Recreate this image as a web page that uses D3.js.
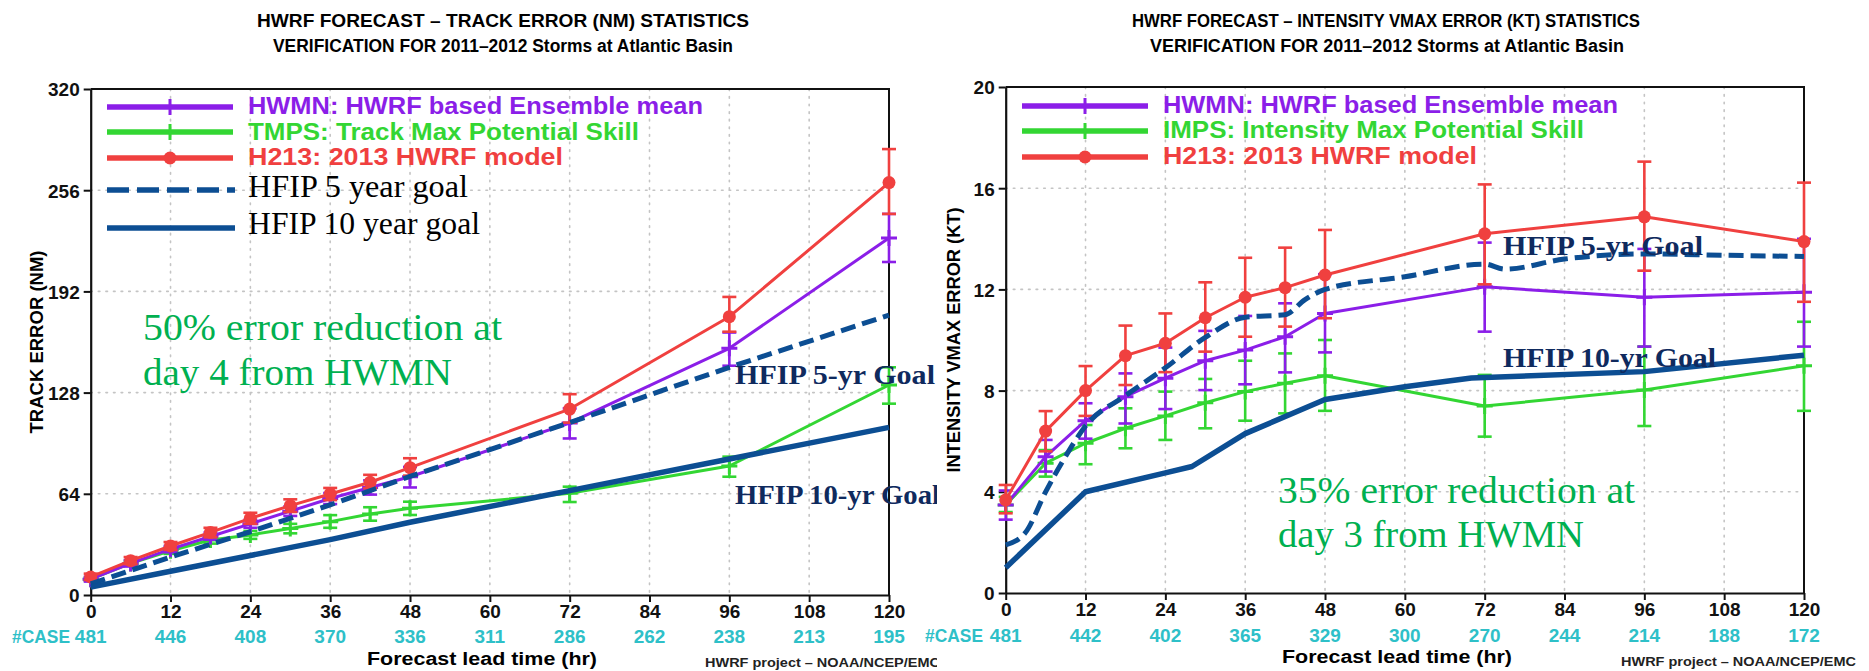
<!DOCTYPE html>
<html>
<head>
<meta charset="utf-8">
<script src="https://cdn.jsdelivr.net/npm/d3@7"></script>
<style>
  html, body { margin: 0; padding: 0; background: #fff; }
  svg { display: block; }
</style>
</head>
<body>
<svg id="chart" width="1869" height="671"></svg>
<script>
// ---- Verification lead times (hours) -------------------------------------
const leadTimes   = [0, 6, 12, 18, 24, 30, 36, 42, 48, 72, 96, 120];
const xTickValues = [0, 12, 24, 36, 48, 60, 72, 84, 96, 108, 120];

// ---- Track error (NM) ----------------------------------------------------
const trackTicks  = [0, 64, 128, 192, 256, 320];
const trackCases  = [481, 446, 408, 370, 336, 311, 286, 262, 238, 213, 195];

const trackHWMN   = [10, 20, 29, 37, 45, 53, 61, 68, 74.8, 108.8, 156, 225.8];
const trackHWMNLo = [8.5, 18, 27, 35, 42.5, 50, 57.5, 63.5, 68, 99, 145, 210.6];
const trackHWMNHi = [11.5, 22, 31, 39.5, 47.5, 56, 64.5, 72.5, 81, 118, 166, 241];

const trackTMPS   = [10, 20, 28, 34.8, 38, 42, 46.4, 51.2, 54.8, 64.3, 81.6, 132.8];
const trackTMPSLo = [9, 18.5, 26, 32.5, 35.5, 39, 42.5, 47, 50.6, 58.8, 74.8, 121];
const trackTMPSHi = [11, 21.5, 30, 37, 40.5, 45, 50.5, 55.5, 59, 68.5, 87.5, 144];

const trackH213   = [11.4, 21.7, 31, 39.6, 48.5, 56.5, 63.9, 71.3, 80.5, 117.6, 176, 260.8];
const trackH213Lo = [9.5, 19.5, 28.5, 36.5, 45, 52.5, 60, 67.5, 75.5, 109, 166.5, 241];
const trackH213Hi = [13.5, 24, 33.5, 42.5, 52, 60.5, 67.7, 76, 86.5, 127, 188.5, 282];

const trackGoalHours = [0, 12, 24, 36, 48, 72, 96, 120];
const trackGoal5yr   = [7, 24, 40, 57, 75, 109, 144, 177];
const trackGoal10yr  = [5, 15, 25, 35, 46, 66, 86, 106];

// ---- Intensity (Vmax) error (KT) -----------------------------------------
const intTicks  = [0, 4, 8, 12, 16, 20];
const intCases  = [481, 442, 402, 365, 329, 300, 270, 244, 214, 188, 172];

const intHWMN   = [3.48, 5.39, 6.81, 7.76, 8.49, 9.18, 9.6, 10.13, 11.05, 12.1, 11.69, 11.89];
const intHWMNLo = [2.9, 4.8, 6.1, 6.7, 7.27, 8.02, 8.25, 8.72, 9.51, 10.33, 9.74, 9.74];
const intHWMNHi = [4.05, 6.05, 7.5, 8.68, 9.7, 10.36, 10.95, 11.45, 12.6, 13.85, 13.6, 14.0];

const intIMPS   = [3.48, 5.13, 5.92, 6.51, 7.0, 7.52, 7.96, 8.29, 8.59, 7.39, 8.02, 8.98];
const intIMPSLo = [3.2, 4.6, 5.09, 5.72, 6.05, 6.51, 6.81, 7.1, 7.2, 6.18, 6.6, 7.2];
const intIMPSHi = [3.8, 5.65, 6.64, 7.3, 7.96, 8.46, 9.18, 9.47, 10.0, 8.62, 9.74, 10.72];

const intH213   = [3.68, 6.4, 8.0, 9.38, 9.87, 10.88, 11.69, 12.07, 12.57, 14.2, 14.87, 13.89];
const intH213Lo = [3.15, 5.6, 7.0, 8.22, 8.73, 9.54, 10.13, 10.53, 10.86, 12.2, 12.74, 11.51];
const intH213Hi = [4.27, 7.19, 8.97, 10.57, 11.05, 12.28, 13.25, 13.65, 14.35, 16.15, 17.05, 16.22];

const intGoal5yrHours  = [0, 3, 6, 9, 12, 18, 24, 30, 36, 42, 45, 48, 60, 72, 75, 84, 96, 108, 120];
const intGoal5yr       = [1.9, 2.4, 4.0, 5.4, 6.6, 7.8, 8.9, 10.1, 10.9, 11.0, 11.6, 12.0, 12.5, 13.0, 12.8, 13.2, 13.4, 13.35, 13.3];
const intGoal10yrHours = [0, 12, 24, 28, 36, 48, 60, 70, 96, 120];
const intGoal10yr      = [1.0, 4.0, 4.75, 5.0, 6.3, 7.65, 8.15, 8.5, 8.75, 9.4];

// ---- Styling -------------------------------------------------------------
const SANS  = "'Liberation Sans', Arial, Helvetica, sans-serif";
const SERIF = "'Liberation Serif', 'Times New Roman', serif";
const C = {
  purple: "#8b1ee8",
  green:  "#33d633",
  red:    "#f0403f",
  goal:   "#0c4e93",
  goalTx: "#0f2a5e",
  note:   "#00b050",
  cases:  "#2ec0c8",
  grid:   "#c4c4c4"
};

const svg = d3.select("#chart");

svg.append("defs").append("clipPath").attr("id", "leftClip")
  .append("rect").attr("x", 0).attr("y", 0).attr("width", 937).attr("height", 671);

function fitText(g, txt, x, y, len, opts) {
  const t = g.append("text")
    .attr("x", x).attr("y", y)
    .attr("font-family", opts.family || SANS)
    .attr("font-size", opts.size)
    .attr("font-weight", opts.weight || "normal")
    .attr("fill", opts.fill || "#000")
    .text(txt);
  if (len) t.attr("textLength", len).attr("lengthAdjust", opts.adjust || "spacingAndGlyphs");
  if (opts.anchor) t.attr("text-anchor", opts.anchor);
  if (opts.transform) t.attr("transform", opts.transform);
  return t;
}

function drawPanel(p) {
  const g = svg.append("g").attr("clip-path", p.clip || null);
  const x = d3.scaleLinear().domain([0, 120]).range([p.left, p.right]);
  const y = d3.scaleLinear().domain([0, p.yMax]).range([p.bottom, p.top]);

  // titles
  p.titles.forEach(t => fitText(g, t.text, t.x, t.y, t.len, { size: 18, weight: "bold" }));

  // dotted grid
  const grid = g.append("g").attr("stroke", C.grid).attr("stroke-width", 1.6)
    .attr("stroke-dasharray", "1.6,6").attr("stroke-linecap", "round");
  grid.selectAll("line.v").data(xTickValues.slice(1, -1)).join("line")
    .attr("x1", d => x(d)).attr("x2", d => x(d)).attr("y1", p.top).attr("y2", p.bottom);
  grid.selectAll("line.h").data(p.yTicks.slice(1, -1)).join("line")
    .attr("y1", d => y(d)).attr("y2", d => y(d)).attr("x1", p.left).attr("x2", p.right);

  // frame (top and right)
  g.append("path")
    .attr("d", `M${p.left},${p.top}H${p.right}V${p.bottom}`)
    .attr("fill", "none").attr("stroke", "#111").attr("stroke-width", 2);

  // axes
  const yAxis = g.append("g").attr("transform", `translate(${p.left},0)`)
    .call(d3.axisLeft(y).tickValues(p.yTicks).tickSize(7).tickSizeOuter(0).tickPadding(4));
  const xAxis = g.append("g").attr("transform", `translate(0,${p.bottom})`)
    .call(d3.axisBottom(x).tickValues(xTickValues).tickSize(7).tickSizeOuter(0));
  [yAxis, xAxis].forEach(a => {
    a.select(".domain").attr("stroke", "#111").attr("stroke-width", 2.2);
    a.selectAll(".tick line").attr("stroke", "#111").attr("stroke-width", 2);
    a.selectAll("text").attr("font-family", SANS).attr("font-weight", "bold")
      .attr("font-size", 19).attr("fill", "#111");
  });
  yAxis.selectAll("text").attr("dy", "0.36em");
  xAxis.selectAll("text").attr("y", 23).attr("dy", null);

  // case counts
  fitText(g, "#CASE", p.caseLabelX, p.caseY, 58, { size: 19, weight: "bold", fill: C.cases });
  g.append("g").selectAll("text").data(p.cases).join("text")
    .attr("x", (d, i) => x(xTickValues[i])).attr("y", p.caseY)
    .attr("text-anchor", "middle")
    .attr("font-family", SANS).attr("font-weight", "bold").attr("font-size", 19)
    .attr("fill", C.cases).text(d => d);

  // axis titles
  fitText(g, "Forecast lead time (hr)", p.xLabel.x, p.xLabel.y, 230, { size: 18, weight: "bold" });
  fitText(g, p.yLabel.text, 0, 0, p.yLabel.len, {
    size: 19, weight: "bold", anchor: "middle",
    transform: `translate(${p.yLabel.x},${p.yLabel.y}) rotate(-90)`
  });
  fitText(g, "HWRF project \u2013 NOAA/NCEP/EMC", p.credit.x, p.credit.y, 235, { size: 13, weight: "bold", fill: "#222" });

  // model series with error bars
  const line = d3.line().x((d, i) => x(leadTimes[i])).y(d => y(d));
  p.series.forEach(s => {
    const sg = g.append("g");
    sg.append("path").attr("d", line(s.values))
      .attr("fill", "none").attr("stroke", s.color).attr("stroke-width", 3)
      .attr("stroke-linejoin", "round");
    const bars = sg.append("g").attr("stroke", s.color).attr("stroke-width", 2.6);
    leadTimes.forEach((h, i) => {
      const cx = x(h), y0 = y(s.lo[i]), y1 = y(s.hi[i]);
      bars.append("line").attr("x1", cx).attr("x2", cx).attr("y1", y0).attr("y2", y1);
      bars.append("line").attr("x1", cx - 7).attr("x2", cx + 7).attr("y1", y0).attr("y2", y0);
      bars.append("line").attr("x1", cx - 7).attr("x2", cx + 7).attr("y1", y1).attr("y2", y1);
      if (s.marker === "circle") {
        sg.append("circle").attr("cx", cx).attr("cy", y(s.values[i])).attr("r", 6.5).attr("fill", s.color);
      } else {
        sg.append("path").attr("d", `M${cx - 8},${y(s.values[i])}h16M${cx},${y(s.values[i]) - 8}v16`)
          .attr("stroke", s.color).attr("stroke-width", 3);
      }
    });
  });

  // HFIP goal lines
  const goalLine = (hours, curve) => d3.line().x((d, i) => x(hours[i])).y(d => y(d)).curve(curve);
  g.append("path").attr("d", goalLine(p.goal5.hours, p.goal5.curve)(p.goal5.values))
    .attr("fill", "none").attr("stroke", C.goal).attr("stroke-width", 5)
    .attr("stroke-dasharray", "15,7");
  g.append("path").attr("d", goalLine(p.goal10.hours, d3.curveLinear)(p.goal10.values))
    .attr("fill", "none").attr("stroke", C.goal).attr("stroke-width", 5.5)
    .attr("stroke-linejoin", "round");

  // legend
  p.legend.forEach(L => {
    const lg = g.append("g");
    const mid = (L.x0 + L.x1) / 2;
    if (L.kind === "dash" || L.kind === "solid") {
      lg.append("line").attr("x1", L.x0).attr("x2", L.x1).attr("y1", L.y).attr("y2", L.y)
        .attr("stroke", C.goal).attr("stroke-width", 5.5)
        .attr("stroke-dasharray", L.kind === "dash" ? "22,8" : null);
      fitText(lg, L.text, L.tx, L.ty, L.len, { family: SERIF, size: 31 });
    } else {
      lg.append("line").attr("x1", L.x0).attr("x2", L.x1).attr("y1", L.y).attr("y2", L.y)
        .attr("stroke", L.color).attr("stroke-width", 5.5);
      if (L.kind === "circle") {
        lg.append("circle").attr("cx", mid).attr("cy", L.y).attr("r", 6.5).attr("fill", L.color);
      } else {
        lg.append("line").attr("x1", mid).attr("x2", mid).attr("y1", L.y - 8).attr("y2", L.y + 8)
          .attr("stroke", L.color).attr("stroke-width", 3);
      }
      fitText(lg, L.text, L.tx, L.ty, L.len, { size: 23, weight: "bold", fill: L.color });
    }
  });

  // goal labels
  p.goalLabels.forEach(t => fitText(g, t.text, t.x, t.y, t.len,
    { family: SERIF, size: 28, weight: "bold", fill: C.goalTx }));

  // error reduction note
  p.notes.forEach(t => fitText(g, t.text, t.x, t.y, t.len, { family: SERIF, size: 37, fill: C.note }));
}

// ---- Track panel ---------------------------------------------------------
drawPanel({
  clip: "url(#leftClip)",
  left: 90.7, right: 889, top: 89, bottom: 595, yMax: 320, yTicks: trackTicks,
  titles: [
    { text: "HWRF FORECAST \u2013 TRACK ERROR (NM) STATISTICS", x: 257, y: 27, len: 492 },
    { text: "VERIFICATION FOR 2011\u20132012 Storms at Atlantic Basin", x: 273, y: 52, len: 460 }
  ],
  cases: trackCases, caseLabelX: 12, caseY: 643,
  xLabel: { x: 367, y: 665 },
  yLabel: { text: "TRACK ERROR (NM)", x: 43, y: 342, len: 183 },
  credit: { x: 705, y: 667 },
  series: [
    { values: trackTMPS, lo: trackTMPSLo, hi: trackTMPSHi, color: C.green, marker: "cross" },
    { values: trackHWMN, lo: trackHWMNLo, hi: trackHWMNHi, color: C.purple, marker: "cross" },
    { values: trackH213, lo: trackH213Lo, hi: trackH213Hi, color: C.red, marker: "circle" }
  ],
  goal5:  { hours: trackGoalHours, values: trackGoal5yr, curve: d3.curveLinear },
  goal10: { hours: trackGoalHours, values: trackGoal10yr },
  legend: [
    { kind: "cross",  color: C.purple, x0: 107, x1: 233, y: 107, tx: 248, ty: 114, len: 455, text: "HWMN:  HWRF  based  Ensemble  mean" },
    { kind: "cross",  color: C.green,  x0: 107, x1: 233, y: 132, tx: 248, ty: 140, len: 391, text: "TMPS:  Track  Max  Potential  Skill" },
    { kind: "circle", color: C.red,    x0: 107, x1: 233, y: 158, tx: 248, ty: 165, len: 315, text: "H213:  2013  HWRF  model" },
    { kind: "dash",  x0: 107, x1: 235, y: 190, tx: 248, ty: 197, len: 220, text: "HFIP 5 year goal" },
    { kind: "solid", x0: 107, x1: 235, y: 228, tx: 248, ty: 234, len: 232, text: "HFIP 10 year goal" }
  ],
  goalLabels: [
    { text: "HFIP 5-yr Goal",  x: 735, y: 384, len: 200 },
    { text: "HFIP 10-yr Goal", x: 735, y: 504, len: 205 }
  ],
  notes: [
    { text: "50% error reduction at", x: 143, y: 340, len: 359 },
    { text: "day 4 from HWMN",        x: 143, y: 385, len: 309 }
  ]
});

// ---- Intensity panel -----------------------------------------------------
drawPanel({
  clip: null,
  left: 1005.7, right: 1804, top: 87, bottom: 593, yMax: 20, yTicks: intTicks,
  titles: [
    { text: "HWRF FORECAST \u2013 INTENSITY VMAX ERROR (KT) STATISTICS", x: 1132, y: 27, len: 508 },
    { text: "VERIFICATION FOR 2011\u20132012 Storms at Atlantic Basin", x: 1150, y: 52, len: 474 }
  ],
  cases: intCases, caseLabelX: 925, caseY: 642,
  xLabel: { x: 1282, y: 663 },
  yLabel: { text: "INTENSITY VMAX ERROR (KT)", x: 960, y: 340, len: 265 },
  credit: { x: 1621, y: 666 },
  series: [
    { values: intIMPS, lo: intIMPSLo, hi: intIMPSHi, color: C.green, marker: "cross" },
    { values: intHWMN, lo: intHWMNLo, hi: intHWMNHi, color: C.purple, marker: "cross" },
    { values: intH213, lo: intH213Lo, hi: intH213Hi, color: C.red, marker: "circle" }
  ],
  goal5:  { hours: intGoal5yrHours, values: intGoal5yr, curve: d3.curveMonotoneX },
  goal10: { hours: intGoal10yrHours, values: intGoal10yr },
  legend: [
    { kind: "cross",  color: C.purple, x0: 1022, x1: 1148, y: 106, tx: 1163, ty: 113, len: 455, text: "HWMN:  HWRF  based  Ensemble  mean" },
    { kind: "cross",  color: C.green,  x0: 1022, x1: 1148, y: 131, tx: 1163, ty: 138, len: 421, text: "IMPS:  Intensity  Max  Potential  Skill" },
    { kind: "circle", color: C.red,    x0: 1022, x1: 1148, y: 157, tx: 1163, ty: 164, len: 314, text: "H213:  2013  HWRF  model" }
  ],
  goalLabels: [
    { text: "HFIP 5-yr Goal",  x: 1503, y: 255, len: 200 },
    { text: "HFIP 10-yr Goal", x: 1503, y: 367, len: 213 }
  ],
  notes: [
    { text: "35% error reduction at", x: 1278, y: 503, len: 357 },
    { text: "day 3 from HWMN",        x: 1278, y: 547, len: 306 }
  ]
});
</script>
</body>
</html>
